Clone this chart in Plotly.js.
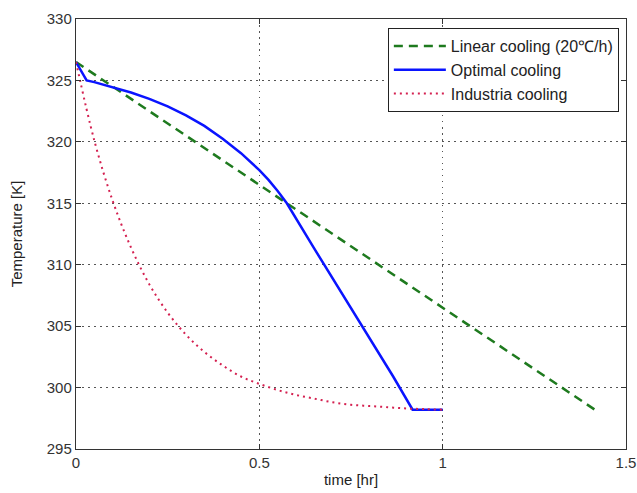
<!DOCTYPE html>
<html>
<head>
<meta charset="utf-8">
<script src="https://cdn.plot.ly/plotly-3.0.1.min.js"></script>
<style>html,body{margin:0;padding:0;background:#fff;}#chart{width:637px;height:493px;}</style>
</head>
<body>
<div id="chart"></div>
<script>
// Linear cooling (20 °C/h)
const linearTime = [0, 1.425];
const linearTemp = [326.5, 298.0];

// Optimal cooling
const optimalTime = [0, 0.029, 0.05, 0.1, 0.15, 0.2, 0.25, 0.3, 0.35, 0.4, 0.45, 0.5, 0.525, 0.55, 0.575, 0.647, 0.72, 0.793, 0.865, 0.918, 1.0];
const optimalTemp = [326.5, 325.0, 324.86, 324.47, 324.02, 323.5, 322.88, 322.15, 321.3, 320.25, 319.08, 317.7, 316.9, 316.0, 315.0, 311.45, 307.95, 304.45, 300.9, 298.2, 298.2];

// Industria cooling
const industriaTime = [0, 0.05, 0.1, 0.15, 0.2, 0.25, 0.3, 0.35, 0.4, 0.45, 0.5, 0.55, 0.6, 0.65, 0.7, 0.75, 0.8, 0.85, 0.9, 0.95, 1.0];
const industriaTemp = [326.5, 320.1, 315.2, 311.4, 308.4, 306.1, 304.3, 302.9, 301.8, 300.9, 300.3, 299.8, 299.4, 299.1, 298.8, 298.6, 298.5, 298.4, 298.3, 298.25, 298.2];

const seriesNames = ['Linear cooling (20\u2103/h)', 'Optimal cooling', 'Industria cooling'];

const xTicks = [0, 0.5, 1, 1.5];
const xTickText = ['0', '0.5', '1', '1.5'];
const yTicks = [295, 300, 305, 310, 315, 320, 325, 330];

const FONT = 'Liberation Sans, Arial, sans-serif';

const traces = [
  {x: linearTime, y: linearTemp, name: seriesNames[0], mode: 'lines',
   line: {color: '#1e7a1e', width: 2.5, dash: '9px,6px'}},
  {x: optimalTime, y: optimalTemp, name: seriesNames[1], mode: 'lines',
   line: {color: '#0a14ff', width: 2.5}},
  {x: industriaTime, y: industriaTemp, name: seriesNames[2], mode: 'lines',
   line: {color: '#d42050', width: 2, dash: '2px,4px', shape: 'spline'}}
];

const axisCommon = {
  showline: true, linecolor: '#333', linewidth: 1.2, mirror: 'ticks',
  ticks: 'inside', ticklen: 5, tickcolor: '#333',
  showgrid: true, gridcolor: '#555', griddash: '1.5px,4.5px', gridwidth: 1,
  zeroline: false,
  tickfont: {family: FONT, size: 15, color: '#333'}
};

const layout = {
  width: 637, height: 493,
  margin: {l: 76, r: 11, t: 19, b: 44},
  paper_bgcolor: '#fff', plot_bgcolor: '#fff',
  showlegend: true,
  legend: {
    x: 0.987, xanchor: 'right', y: 0.979, yanchor: 'top',
    bgcolor: '#fff', bordercolor: '#222', borderwidth: 1,
    font: {family: FONT, size: 16, color: '#222'},
    itemwidth: 52, tracegroupgap: 0
  },
  xaxis: Object.assign({}, axisCommon, {
    range: [0, 1.5], tickvals: xTicks, ticktext: xTickText,
    title: {text: 'time [hr]', standoff: 4, font: {family: FONT, size: 15, color: '#222'}}
  }),
  yaxis: Object.assign({}, axisCommon, {
    range: [295, 330], tickvals: yTicks,
    title: {text: 'Temperature [K]', standoff: 20, font: {family: FONT, size: 15, color: '#222'}}
  })
};

Plotly.newPlot('chart', traces, layout, {displayModeBar: false, staticPlot: true});
</script>
</body>
</html>
